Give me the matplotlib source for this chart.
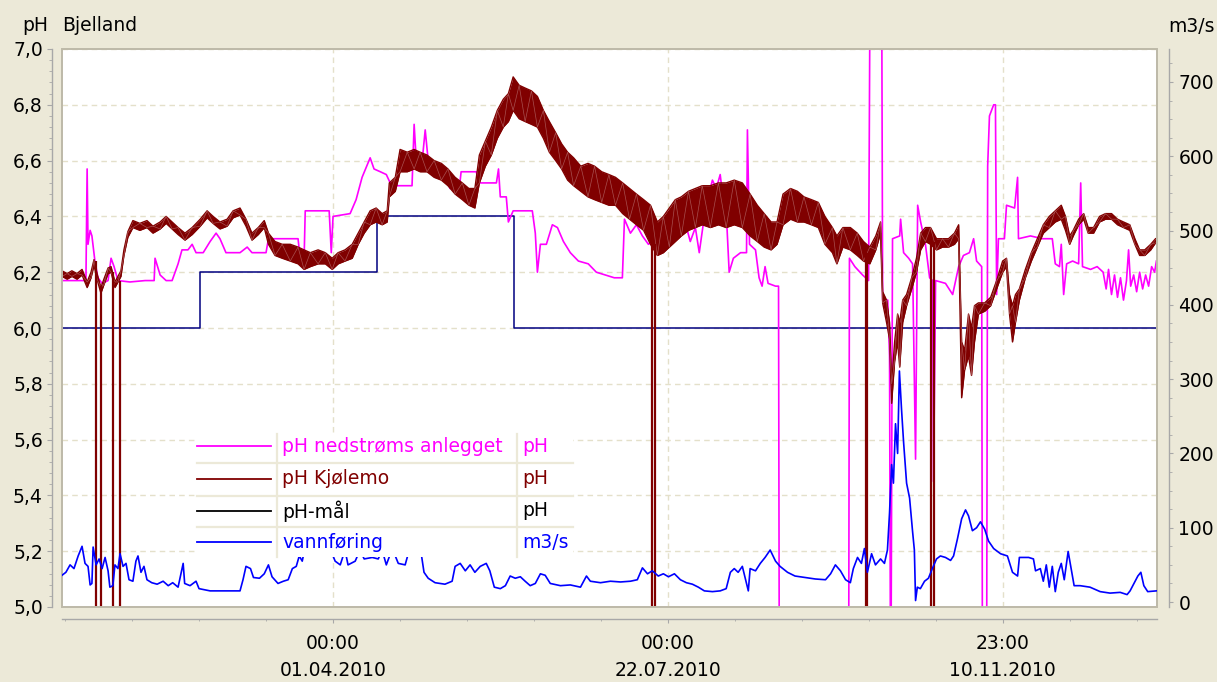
import numpy as np
import matplotlib
matplotlib.use('Agg')
import matplotlib.pyplot as plt
import matplotlib.dates as mdates
from matplotlib.patches import Rectangle
from matplotlib.lines import Line2D
from matplotlib.ticker import FixedLocator, MultipleLocator

# time axis: days counted from 31.12.2009 12:00
start = np.datetime64('2009-12-31T12:00')

# pH Kjølemo (dark red), read as lower / upper edge of the noisy trace
kj_day = [0, 1.7, 3.3, 5, 6.7, 8.4, 9.7, 10.7, 11.7, 13, 14, 15.4, 16.4, 17.7, 18.7, 19.7,
          20.7, 22, 23.7, 26, 28.4, 30.4, 32.8, 34.8, 36.8, 38.8, 41.1, 43.5, 46.2, 48.5,
          50.5, 52.8, 55.2, 57.2, 59.5, 61.5, 63.5, 65.6, 67.6, 69, 71.2, 73.6, 76.3, 78.9,
          80.9, 83, 85.6, 88, 90.3, 92.3, 94.6, 97, 99, 101, 103, 105, 107, 108.7, 109.4,
          111.4, 113, 115.4, 117.7, 119.7, 122, 124.4, 126.8, 129, 131.4, 133.8, 136, 138,
          139.5, 141.5, 143.5, 145.5, 147.5, 149.2, 150.8, 152.8, 154.8, 156.9, 158.9, 160.9,
          162.9, 165, 167, 169, 171, 173.4, 175.8, 178, 180.4, 182.8, 185, 187.4, 189.7, 192,
          194.4, 196.7, 199, 201, 203, 205, 207, 209.4, 211.7, 214, 216.7, 219.4, 222, 224.7,
          227.4, 230, 232.4, 234.7, 237, 239, 241, 243.5, 245.8, 248, 250.5, 252.8, 255,
          257.5, 259, 261, 263.5, 265.8, 267.9, 270, 272, 273.6, 274.3, 275.6, 276.6, 277.3,
          278.3, 279.3, 280, 281, 282.3, 284, 285.6, 287, 288.6, 290.3, 292.3, 294.3, 296.3,
          298.3, 299.7, 300.7, 301.7, 303, 304, 305, 306.3, 308.4, 310.4, 312.4, 314.4, 315.7,
          316.7, 317.7, 318.7, 320, 322, 324, 326, 328, 330, 332, 334, 335.4, 336.8, 338,
          339.8, 341.5, 343, 344.8, 346.8, 348.8, 350.8, 352.8, 354.8, 356.9, 358.6, 360.2,
          361.9, 363.9, 365.5]
kj_lo = [6.185, 6.175, 6.185, 6.175, 6.19, 6.145, 6.18, 6.225, 6.175, 6.125, 6.155, 6.195,
         6.20, 6.145, 6.165, 6.185, 6.26, 6.325, 6.36, 6.35, 6.36, 6.34, 6.355, 6.375, 6.355,
         6.335, 6.315, 6.335, 6.365, 6.395, 6.375, 6.355, 6.365, 6.395, 6.405, 6.365, 6.315,
         6.335, 6.36, 6.30, 6.26, 6.25, 6.24, 6.23, 6.21, 6.22, 6.23, 6.23, 6.21, 6.23, 6.24,
         6.25, 6.30, 6.34, 6.37, 6.38, 6.37, 6.38, 6.47, 6.49, 6.56, 6.56, 6.57, 6.56, 6.56,
         6.54, 6.53, 6.51, 6.48, 6.46, 6.44, 6.43, 6.52, 6.58, 6.62, 6.68, 6.72, 6.74, 6.78,
         6.75, 6.74, 6.73, 6.72, 6.68, 6.63, 6.60, 6.57, 6.53, 6.51, 6.49, 6.47, 6.46, 6.45,
         6.44, 6.44, 6.41, 6.39, 6.37, 6.35, 6.30, 6.26, 6.27, 6.29, 6.31, 6.33, 6.35, 6.36,
         6.37, 6.36, 6.37, 6.36, 6.37, 6.36, 6.33, 6.31, 6.29, 6.28, 6.30, 6.37, 6.39, 6.38,
         6.38, 6.37, 6.36, 6.30, 6.27, 6.23, 6.29, 6.28, 6.26, 6.24, 6.23, 6.28, 6.34, 6.09,
         6.02, 5.96, 5.73, 5.88, 5.95, 5.86, 6.02, 6.08, 6.14, 6.20, 6.28, 6.31, 6.30, 6.28,
         6.29, 6.29, 6.30, 6.32, 5.75, 5.85, 5.90, 5.83, 5.95, 6.05, 6.06, 6.08, 6.14, 6.20,
         6.22, 6.05, 5.95, 6.02, 6.10, 6.18, 6.24, 6.29, 6.34, 6.36, 6.38, 6.39, 6.35, 6.30,
         6.33, 6.37, 6.39, 6.34, 6.34, 6.38, 6.39, 6.39, 6.37, 6.36, 6.35, 6.30, 6.26, 6.26,
         6.28, 6.305]
kj_hi = [6.205, 6.195, 6.205, 6.195, 6.21, 6.165, 6.20, 6.245, 6.195, 6.145, 6.175, 6.215,
         6.22, 6.165, 6.185, 6.205, 6.28, 6.345, 6.385, 6.375, 6.385, 6.365, 6.38, 6.40, 6.38,
         6.36, 6.34, 6.36, 6.39, 6.42, 6.40, 6.38, 6.39, 6.42, 6.43, 6.39, 6.34, 6.36, 6.385,
         6.34, 6.31, 6.30, 6.30, 6.29, 6.28, 6.27, 6.28, 6.27, 6.25, 6.27, 6.28, 6.30, 6.34,
         6.38, 6.42, 6.43, 6.41, 6.42, 6.52, 6.54, 6.64, 6.63, 6.64, 6.63, 6.62, 6.60, 6.59,
         6.57, 6.54, 6.52, 6.50, 6.50, 6.62, 6.67, 6.72, 6.78, 6.82, 6.84, 6.90, 6.87, 6.86,
         6.85, 6.83, 6.78, 6.74, 6.70, 6.66, 6.63, 6.61, 6.58, 6.59, 6.58, 6.56, 6.55, 6.54,
         6.52, 6.50, 6.48, 6.46, 6.44, 6.38, 6.40, 6.43, 6.46, 6.47, 6.49, 6.50, 6.51, 6.51,
         6.52, 6.52, 6.53, 6.52, 6.48, 6.44, 6.41, 6.38, 6.38, 6.48, 6.50, 6.49, 6.47, 6.46,
         6.45, 6.40, 6.36, 6.33, 6.36, 6.36, 6.34, 6.31, 6.29, 6.33, 6.38, 6.13, 6.10, 6.02,
         5.80, 5.95, 6.05, 6.02, 6.10, 6.12, 6.18, 6.25, 6.34, 6.36, 6.36, 6.32, 6.32, 6.32,
         6.34, 6.37, 5.95, 5.92, 6.05, 6.00, 6.08, 6.09, 6.09, 6.11, 6.17, 6.24, 6.25, 6.12,
         6.08, 6.12, 6.14, 6.21, 6.27, 6.32, 6.37, 6.40, 6.42, 6.44, 6.40, 6.33, 6.35, 6.39,
         6.41, 6.36, 6.36, 6.40, 6.41, 6.41, 6.39, 6.38, 6.37, 6.32, 6.28, 6.28, 6.30, 6.32]
# short gaps where the Kjølemo sensor reading falls off the bottom of the scale
kj_drop_day = [11.2, 13, 17, 19.4, 197.3, 198.3, 268.7, 269.2, 290.6, 291.6]
kj_drop_top = [6.24, 6.15, 6.20, 6.17, 6.33, 6.30, 6.28, 6.27, 6.33, 6.31]

# pH nedstrøms anlegget (magenta)
ned_day = [0, 2.7, 6, 8, 8.4, 8.7, 9.4, 10, 11, 12, 13.4, 15.4, 16.4, 17.4, 18.7, 22.7, 27.8,
           30.8, 31.1, 32.8, 34.8, 36.8, 38.8, 40.1, 42.1, 43.5, 44.8, 47.2, 49.5, 51.5, 52.8,
           54.8, 59.5, 61.9, 63.5, 68.2, 69, 76.3, 78.9, 79.6, 80.9, 81.3, 89.3, 90, 90.6,
           96.3, 98.3, 100.3, 103, 104.3, 106.4, 108.4, 109.7, 112, 117, 117.7, 118.4, 120.4,
           121.4, 122.4, 124, 128.4, 129.7, 132.8, 133.4, 138.5, 139.2, 145.2, 145.9, 146.5,
           148.5, 149.2, 150.8, 157.2, 158.2, 158.9, 159.9, 161.9, 163.9, 165.6, 167.6, 169.9,
           172.6, 175.9, 178.6, 181.6, 184.6, 187.3, 188, 190, 192, 194, 196, 198, 200, 202,
           204, 206, 208, 210, 211.7, 213, 214.7, 216, 217.4, 218.7, 220, 221, 222, 223, 224.4,
           226.8, 228.8, 229.1, 229.8, 231.8, 233, 234, 235, 236, 238.5, 239.5, 239.8, 262.9,
           263.2, 265, 267.6, 269.6, 270.2, 273.9, 274.3, 276, 276.6, 277, 277.6, 280, 280.3,
           281.3, 283, 284.3, 285.3, 286, 287, 288.6, 290, 291, 291.3, 292, 295.3, 297.7,
           299.7, 301.3, 303.3, 304.7, 305.7, 307.4, 307.7, 309, 309.4, 310, 311.4, 312,
           312.4, 313, 315, 315.7, 318.4, 319.4, 319.7, 323.7, 327.8, 331, 332, 333.4, 334,
           334.8, 335.8, 337.8, 339.8, 340.5, 341.1, 343.8, 346, 348, 349, 349.8, 350.8, 351.8,
           352.8, 353.8, 354.8, 355.8, 356.5, 357.2, 358.2, 359.2, 360.2, 361.2, 362.2, 363.2,
           364.2, 365.2, 365.8]
ned_ph = [6.17, 6.17, 6.17, 6.17, 6.57, 6.30, 6.35, 6.33, 6.24, 6.18, 6.16, 6.17, 6.25, 6.22,
          6.17, 6.165, 6.17, 6.17, 6.25, 6.19, 6.17, 6.17, 6.23, 6.28, 6.28, 6.30, 6.27, 6.27,
          6.31, 6.34, 6.32, 6.27, 6.27, 6.29, 6.27, 6.27, 6.32, 6.32, 6.32, 6.25, 6.24, 6.42,
          6.42, 6.27, 6.40, 6.41, 6.46, 6.54, 6.61, 6.57, 6.56, 6.55, 6.52, 6.51, 6.51, 6.73,
          6.60, 6.60, 6.71, 6.60, 6.55, 6.54, 6.50, 6.50, 6.56, 6.56, 6.52, 6.52, 6.57, 6.47,
          6.47, 6.38, 6.42, 6.42, 6.34, 6.20, 6.30, 6.30, 6.37, 6.36, 6.31, 6.27, 6.24, 6.23,
          6.20, 6.19, 6.18, 6.18, 6.39, 6.34, 6.37, 6.33, 6.30, 6.32, 6.37, 6.33, 6.38, 6.34,
          6.39, 6.31, 6.36, 6.27, 6.40, 6.47, 6.53, 6.50, 6.55, 6.46, 6.42, 6.20, 6.25, 6.27,
          6.27, 6.71, 6.30, 6.28, 6.18, 6.15, 6.22, 6.16, 6.15, 6.15, 4.5, 4.5, 6.25, 6.22,
          6.19, 6.17, 7.5, 7.5, 6.10, 6.10, 5.9, 4.5, 6.32, 6.33, 6.39, 6.27, 6.25, 6.23, 5.53,
          6.44, 6.38, 6.30, 6.18, 6.17, 5.45, 6.17, 6.16, 6.12, 6.22, 6.26, 6.27, 6.32, 6.24,
          6.22, 4.5, 4.5, 6.58, 6.76, 6.80, 6.80, 6.12, 6.32, 6.32, 6.44, 6.43, 6.54, 6.32,
          6.33, 6.32, 6.32, 6.23, 6.22, 6.30, 6.12, 6.23, 6.24, 6.23, 6.52, 6.22, 6.21, 6.22,
          6.20, 6.14, 6.21, 6.12, 6.19, 6.11, 6.18, 6.10, 6.17, 6.28, 6.15, 6.19, 6.13, 6.20,
          6.14, 6.19, 6.15, 6.22, 6.20, 6.24]

# pH-mål (target pH, step function)
maal_day = [-1, 46.2, 105.4, 151.2, 367]
maal_ph = [6.0, 6.2, 6.4, 6.0, 6.0]

# vannføring, m3/s (right axis)
q_day = [0, 1.3, 2.7, 4, 5.4, 6.7, 7.7, 8.7, 9.4, 10, 10.4, 11.4, 12.4, 13.4, 14.4, 15.4, 16,
         17, 17.7, 18.7, 19.4, 20.4, 21.4, 22.4, 23.7, 24.7, 25.4, 26.4, 27.4, 28.4, 30, 31.8,
         33.8, 35.5, 37, 38.8, 40.5, 41, 42.8, 44.8, 45.8, 49.5, 54.5, 59.5, 60.5, 61.5, 63,
         64, 66, 67.6, 69, 70.2, 72.2, 74, 75.6, 77, 78.3, 79.3, 80.3, 81.3, 83, 86.3, 89.6,
         91.3, 93, 94.6, 95.6, 98, 99.6, 101, 103.7, 105.7, 107, 108.4, 110.4, 112.4, 114.7,
         116.4, 119.7, 121, 122.4, 124.7, 128, 130.4, 131.4, 133.1, 134.8, 136.4, 138, 139.8,
         141.8, 143, 144.5, 146.5, 148.2, 149.8, 151.5, 153.2, 154.8, 156.5, 158.2, 159.9,
         161.5, 163.2, 166.6, 169.9, 173.3, 175.3, 176.6, 180, 183.3, 186.7, 190, 192.3, 194,
         195.7, 197.3, 199.3, 201, 202.7, 204.7, 206.7, 208.7, 210.7, 212.7, 214.7, 217.4,
         220, 222, 223.4, 224.7, 226, 227.4, 228.8, 229.4, 230, 231.8, 233.4, 235, 236.7,
         238.5, 240, 242.5, 245, 248.5, 251.8, 255.2, 256.9, 258.5, 260.2, 261.9, 263.5,
         264.5, 265.9, 267.2, 268.2, 269.2, 270.6, 271.9, 273.6, 274.9, 275.9, 276.6, 277.3,
         277.9, 278.6, 279.3, 279.9, 280.6, 281.3, 282.3, 283.3, 284.3, 284.9, 285.3, 285.9,
         286.9, 288.3, 289.6, 290.9, 292.3, 293.6, 295.3, 297, 298, 299.3, 300.7, 302, 303,
         304.3, 305.7, 307, 308.4, 309.7, 311.4, 313.7, 316, 317.7, 319.4, 320, 323.1, 324.7,
         325.4, 327, 328, 329, 330, 331, 332, 333, 334, 335, 336.3, 337.3, 338.3, 340.3,
         343.6, 347, 350.3, 353.7, 356, 357, 358.3, 359.6, 360.6, 361.6, 362.9, 365.8]
q_m3s = [36, 40, 50, 45, 62, 75, 52, 48, 23, 25, 74, 50, 58, 45, 60, 42, 20, 22, 50, 45, 65,
         48, 52, 30, 28, 55, 62, 40, 48, 30, 26, 24, 28, 22, 26, 20, 52, 25, 22, 28, 18, 15,
         15, 15, 30, 48, 45, 33, 32, 38, 50, 34, 25, 28, 30, 45, 48, 62, 55, 75, 80, 78, 72,
         55, 50, 70, 50, 55, 70, 58, 60, 58, 70, 50, 72, 52, 50, 75, 75, 40, 32, 26, 24, 28,
         48, 52, 42, 50, 40, 48, 52, 42, 20, 18, 22, 35, 32, 34, 28, 22, 25, 38, 36, 25, 22,
         23, 20, 35, 28, 26, 28, 27, 28, 30, 46, 38, 42, 35, 38, 34, 38, 30, 26, 24, 20, 15,
         14, 15, 18, 40, 45, 40, 48, 25, 15, 45, 42, 52, 60, 70, 55, 48, 40, 35, 33, 31, 30,
         38, 50, 42, 30, 26, 45, 60, 52, 72, 40, 65, 50, 58, 52, 70, 120, 185, 160, 240, 200,
         311, 260, 215, 160, 140, 95, 70, 2, 20, 18, 28, 32, 45, 58, 62, 60, 56, 62, 85, 112,
         124, 116, 96, 100, 108, 98, 82, 72, 65, 62, 40, 35, 60, 60, 58, 42, 45, 28, 50, 20,
         48, 14, 40, 52, 30, 68, 45, 22, 22, 20, 14, 12, 13, 10, 15, 25, 35, 40, 22, 14, 15]

# axis ticks and text
ph_ticks = [5.0, 5.2, 5.4, 5.6, 5.8, 6.0, 6.2, 6.4, 6.6, 6.8, 7.0]
ph_labels = ['5,0', '5,2', '5,4', '5,6', '5,8', '6,0', '6,2', '6,4', '6,6', '6,8', '7,0']
q_ticks = [0, 100, 200, 300, 400, 500, 600, 700]
date_ticks = ['2010-04-01T00:00', '2010-07-22T00:00', '2010-11-10T23:00']
date_labels = ['00:00\n01.04.2010', '00:00\n22.07.2010', '23:00\n10.11.2010']
legend_names = ['pH nedstrøms anlegget', 'pH Kjølemo', 'pH-mål', 'vannføring']
legend_units = ['pH', 'pH', 'pH', 'm3/s']

BG = '#ECE9D8'
MAGENTA = '#FF00FF'
DARKRED = '#800000'
NAVY = '#000080'
BLUE = '#0000FF'
AXISGREY = '#A8A8A8'
FS = 13.5


def to_time(days):
    secs = np.round(np.asarray(days, dtype=float) * 86400).astype('int64')
    return start + secs.astype('timedelta64[s]')


W, H = 1217, 682
fx = lambda x: x / W
fy = lambda y: 1 - y / H

plt.rcParams['font.family'] = 'DejaVu Sans'
fig = plt.figure(figsize=(W / 100, H / 100), dpi=100, facecolor=BG)
ax = fig.add_axes([fx(62), fy(607), (1157 - 62) / W, (607 - 49) / H])
ax.set_facecolor('white')
ax2 = ax.twinx()

# series
ax.plot(to_time(maal_day), maal_ph, color=NAVY, lw=1.1, drawstyle='steps-post', zorder=2)
ax.plot(to_time(ned_day), ned_ph, color=MAGENTA, lw=1.2, zorder=3)
t_kj = to_time(kj_day)
lo = np.array(kj_lo)
hi = np.array(kj_hi)
ax.fill_between(t_kj, lo, hi, color=DARKRED, lw=0, zorder=4)
ax.plot(t_kj, lo, color=DARKRED, lw=1.0, zorder=4)
ax.plot(t_kj, hi, color=DARKRED, lw=1.0, zorder=4)
# zigzag between the read lower / upper values adds a little texture
zig = np.where(np.arange(len(lo)) % 2 == 0, lo, hi)
ax.plot(t_kj, zig, color='#A85050', lw=0.5, zorder=4)
ax.vlines(to_time(kj_drop_day), 5.0, kj_drop_top, color=DARKRED, lw=1.6, zorder=4)
ax2.plot(to_time(q_day), q_m3s, color=BLUE, lw=1.2, zorder=3)

# x axis
ax.set_xlim(to_time([0])[0], to_time([366])[0])
major = mdates.date2num(np.array(date_ticks, dtype='datetime64[m]'))
ax.xaxis.set_major_locator(FixedLocator(major))
ax.set_xticklabels(date_labels)
minor = major[0] + np.arange(-4, 13) * 22.4
ax.xaxis.set_minor_locator(FixedLocator(minor))

# left axis
ax.set_ylim(5.0, 7.0)
ax.yaxis.set_major_locator(FixedLocator(ph_ticks))
ax.set_yticklabels(ph_labels)
ax.yaxis.set_minor_locator(MultipleLocator(0.04))

# right axis
ax2.set_ylim(-6.7, 744.4)
ax2.yaxis.set_major_locator(FixedLocator(q_ticks))
ax2.set_yticklabels([str(v) for v in q_ticks])
ax2.yaxis.set_minor_locator(MultipleLocator(25))

ax.grid(True, which='major', color='#E4E0CA', lw=1.0, linestyle=(0, (4, 3)))
ax.set_axisbelow(True)

for s in ['top', 'right']:
    ax.spines[s].set_visible(False)
for s in ['top', 'left', 'bottom']:
    ax2.spines[s].set_visible(False)
ax.spines['left'].set_position(('outward', 7.2))
ax.spines['bottom'].set_position(('outward', 8.6))
ax2.spines['right'].set_position(('outward', 8.6))
for sp in [ax.spines['left'], ax.spines['bottom'], ax2.spines['right']]:
    sp.set_color(AXISGREY)
    sp.set_linewidth(1.0)

ax.tick_params(axis='y', which='major', direction='out', length=3.6, color=AXISGREY,
               labelsize=FS, pad=3)
ax.tick_params(axis='y', which='minor', direction='out', length=2.0, color=AXISGREY)
ax.tick_params(axis='x', which='major', direction='out', length=3.0, color=AXISGREY,
               labelsize=FS, pad=8)
ax.tick_params(axis='x', which='minor', direction='out', length=1.5, color=AXISGREY)
ax2.tick_params(axis='y', which='major', direction='out', length=2.8, color=AXISGREY,
                labelsize=FS, pad=4)
ax2.tick_params(axis='y', which='minor', direction='out', length=2.0, color=AXISGREY)

# frame around plot area
ax.add_patch(Rectangle((0, 0), 1, 1, transform=ax.transAxes, fill=False, ec='#BDB9A8',
                       lw=1.4, clip_on=False, zorder=6))

# titles
fig.text(fx(48), fy(31), 'pH', ha='right', va='baseline', fontsize=FS)
fig.text(fx(62), fy(31), 'Bjelland', ha='left', va='baseline', fontsize=FS)
fig.text(fx(1168), fy(32), 'm3/s', ha='left', va='baseline', fontsize=FS)

# legend table
leg_colors = [MAGENTA, DARKRED, 'black', BLUE]
row_y = [446, 479, 511, 542]
fig.add_artist(Rectangle((fx(197), fy(557)), (573 - 197) / W, (557 - 434) / H,
                         transform=fig.transFigure, fc='white', ec='none', zorder=10))
for yy in [463, 496, 527]:
    fig.add_artist(Line2D([fx(197), fx(573)], [fy(yy), fy(yy)], color=BG, lw=1.6, zorder=11))
for xx in [277, 517]:
    fig.add_artist(Line2D([fx(xx), fx(xx)], [fy(434), fy(557)], color=BG, lw=1.6, zorder=11))
for name, unit, col, yy in zip(legend_names, legend_units, leg_colors, row_y):
    fig.add_artist(Line2D([fx(197), fx(271)], [fy(yy), fy(yy)], color=col, lw=1.3, zorder=12))
    fig.text(fx(282), fy(yy), name, color=col, ha='left', va='center', fontsize=FS, zorder=12)
    fig.text(fx(522), fy(yy), unit, color=col, ha='left', va='center', fontsize=FS, zorder=12)

fig.canvas.draw()
for lab in ax.get_xticklabels():
    lab.set_linespacing(1.52)

fig.savefig('out.png', dpi=100, facecolor=BG)
